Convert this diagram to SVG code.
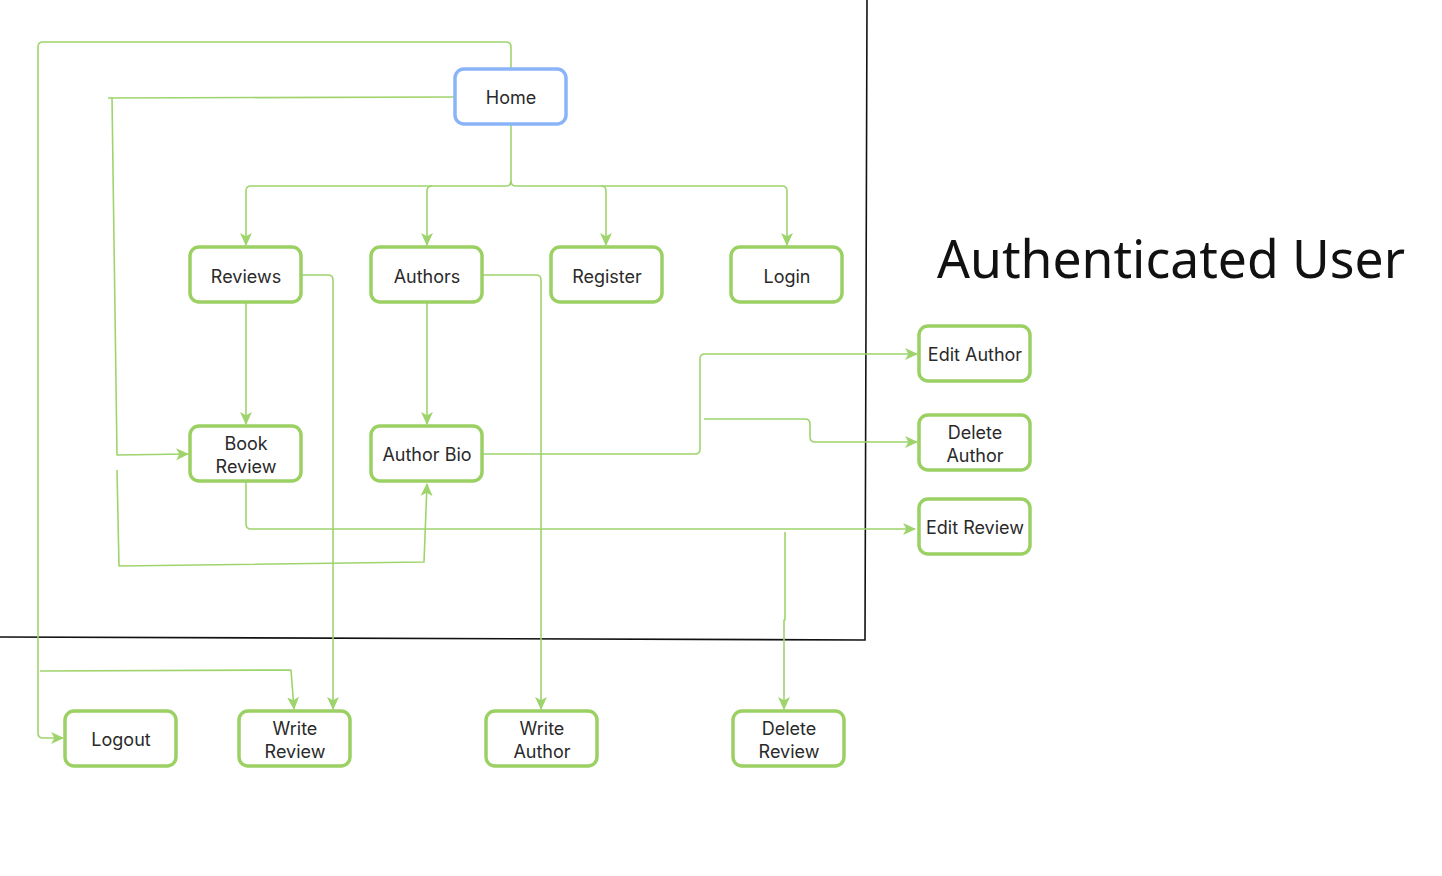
<svg xmlns="http://www.w3.org/2000/svg" width="1442" height="876" viewBox="0 0 1442 876">
<style>
.n rect{fill:#fff;stroke:#9bd063;stroke-width:3.5}
.n.b rect{stroke:#8ab4f8}
.n text{font-family:Inter,"Liberation Sans",sans-serif;font-size:18px;fill:#2a2a2a;text-anchor:middle}
.c path{fill:none;stroke:#9fd46c;stroke-width:1.6;stroke-linejoin:round}
.title{font-family:"Noto Sans","Open Sans",sans-serif;font-size:52px;fill:#111}
</style>
<defs>
<marker id="a" viewBox="0 0 12 12" refX="11" refY="6" markerWidth="13" markerHeight="13" orient="auto" markerUnits="userSpaceOnUse">
<path d="M0,0.5 L12,6 L0,11.5 L3,6 z" fill="#9fd46c"/>
</marker>
</defs>
<rect width="1442" height="876" fill="#fff"/>
<path d="M867,0 L865,640 L0,637" fill="none" stroke="#111" stroke-width="1.6"/>
<text class="title" x="937" y="278" textLength="468" lengthAdjust="spacingAndGlyphs">Authenticated User</text>
<g class="c">
<path d="M511,68 V47 Q511,42 506,42 H43 Q38,42 38,47 V733 Q38,738 43,738 H63" marker-end="url(#a)"/>
<path d="M455,97 L108,98"/>
<path d="M112,98 L117,455 L188,454" marker-end="url(#a)"/>
<path d="M117,470 L119,566 L424,562 L427,484" marker-end="url(#a)"/>
<path d="M511,125 V181 Q511,186 506,186 H251 Q246,186 246,191 V245" marker-end="url(#a)"/>
<path d="M432,186 Q427,186 427,191 V245" marker-end="url(#a)"/>
<path d="M511,181 Q511,186 516,186 H601 Q606,186 606,191 V245" marker-end="url(#a)"/>
<path d="M601,186 H782 Q787,186 787,191 V245" marker-end="url(#a)"/>
<path d="M246,303 V424" marker-end="url(#a)"/>
<path d="M302,275 H328 Q333,275 333,280 V709" marker-end="url(#a)"/>
<path d="M427,303 V424" marker-end="url(#a)"/>
<path d="M483,275 H536 Q541,275 541,280 V709" marker-end="url(#a)"/>
<path d="M483,454 H695 Q700,454 700,449 V359 Q700,354 705,354 H917" marker-end="url(#a)"/>
<path d="M704,419 H805 Q810,419 810,424 V437 Q810,442 815,442 H917" marker-end="url(#a)"/>
<path d="M246,482 V524 Q246,529 251,529 H915" marker-end="url(#a)"/>
<path d="M785,532 V620 L784,620 V709" marker-end="url(#a)"/>
<path d="M40,671 L291,670 L294,709" marker-end="url(#a)"/>
</g>
<g id="home" class="n b"><rect x="455" y="69" width="111" height="55" rx="9"/><text x="511" y="104">Home</text></g>
<g id="reviews" class="n"><rect x="190" y="247" width="111" height="55" rx="9"/><text x="246" y="283">Reviews</text></g>
<g id="authors" class="n"><rect x="371" y="247" width="111" height="55" rx="9"/><text x="427" y="283">Authors</text></g>
<g id="register" class="n"><rect x="551" y="247" width="111" height="55" rx="9"/><text x="607" y="283">Register</text></g>
<g id="login" class="n"><rect x="731" y="247" width="111" height="55" rx="9"/><text x="787" y="283">Login</text></g>
<g id="bookreview" class="n"><rect x="190" y="426" width="111" height="55" rx="9"/><text x="246" y="450">Book</text><text x="246" y="473">Review</text></g>
<g id="authorbio" class="n"><rect x="371" y="426" width="111" height="55" rx="9"/><text x="427" y="461">Author Bio</text></g>
<g id="editauthor" class="n"><rect x="919" y="326" width="111" height="55" rx="9"/><text x="975" y="361">Edit Author</text></g>
<g id="deleteauthor" class="n"><rect x="919" y="415" width="111" height="55" rx="9"/><text x="975" y="439">Delete</text><text x="975" y="462">Author</text></g>
<g id="editreview" class="n"><rect x="919" y="499" width="111" height="55" rx="9"/><text x="975" y="534">Edit Review</text></g>
<g id="logout" class="n"><rect x="65" y="711" width="111" height="55" rx="9"/><text x="121" y="746">Logout</text></g>
<g id="writereview" class="n"><rect x="239" y="711" width="111" height="55" rx="9"/><text x="295" y="735">Write</text><text x="295" y="758">Review</text></g>
<g id="writeauthor" class="n"><rect x="486" y="711" width="111" height="55" rx="9"/><text x="542" y="735">Write</text><text x="542" y="758">Author</text></g>
<g id="deletereview" class="n"><rect x="733" y="711" width="111" height="55" rx="9"/><text x="789" y="735">Delete</text><text x="789" y="758">Review</text></g>
</svg>
